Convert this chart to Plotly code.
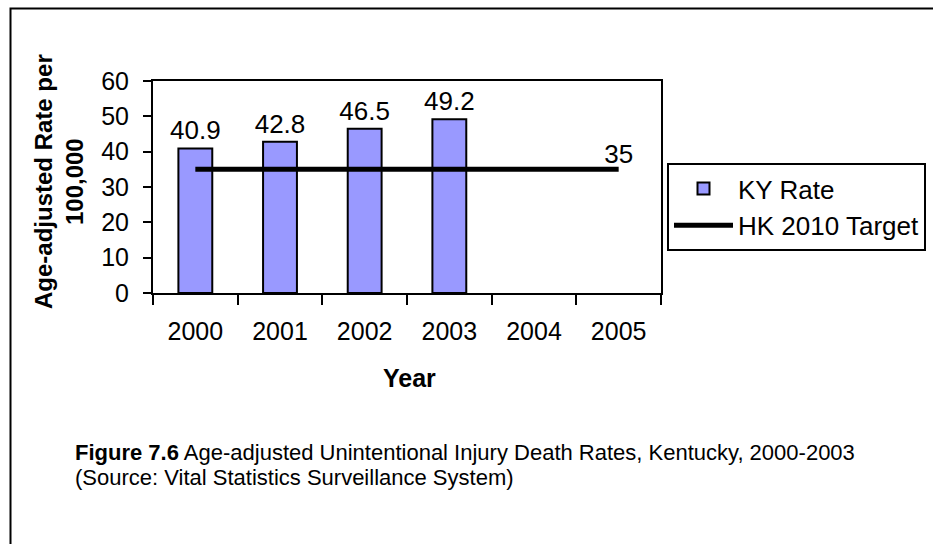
import plotly.graph_objects as go

years = ["2000", "2001", "2002", "2003", "2004", "2005"]
ky_rate = [40.9, 42.8, 46.5, 49.2, None, None]
hk_target = [35, 35, 35, 35, 35, 35]
target_labels = ["", "", "", "", "", "35"]
y_ticks = [0, 10, 20, 30, 40, 50, 60]

FONT = "Arial, Liberation Sans, sans-serif"

# plot area in pixels
L, R, T, B = 153, 661, 81, 293
W, H = 933, 544
PW, PH = R - L, B - T


def px(x):
    return (x - L) / PW


def py(y):
    return (B - y) / PH


fig = go.Figure()
fig.add_trace(go.Bar(
    x=years, y=ky_rate, name="KY Rate",
    marker=dict(color="#9999FF", line=dict(color="black", width=2)),
    text=[("" if v is None else f"{v}") for v in ky_rate],
    textposition="outside", constraintext="none",
    textfont=dict(size=26, color="black", family=FONT),
    cliponaxis=False, legendgroup="a",
))
fig.add_trace(go.Scatter(
    x=years, y=hk_target, name="HK 2010 Target", mode="lines+text",
    line=dict(color="black", width=5),
    text=target_labels, textposition="top center",
    textfont=dict(size=26, color="black", family=FONT),
    cliponaxis=False, legendgroup="b",
))

fig.update_layout(
    width=W, height=H,
    margin=dict(l=L, r=W - R, t=T, b=H - B, autoexpand=False),
    paper_bgcolor="white", plot_bgcolor="white",
    font=dict(family=FONT, size=25, color="black"),
    bargap=0.6,
    showlegend=True,
    legend=dict(
        x=px(667), y=py(163), xanchor="left", yanchor="top",
        bordercolor="black", borderwidth=2, bgcolor="white",
        font=dict(size=26, family=FONT, color="black"),
        itemwidth=59, tracegroupgap=0,
    ),
    xaxis=dict(
        type="category", categoryorder="array", categoryarray=years,
        range=[-0.5, 5.5], showline=True, linecolor="black", linewidth=2,
        mirror=True, ticks="outside", ticklen=10, tickwidth=2, tickcolor="black",
        tickson="boundaries", showgrid=False, zeroline=False,
        ticklabelstandoff=15, tickfont=dict(size=25),
    ),
    xaxis2=dict(
        overlaying="x", anchor="y", side="bottom", range=[-0.5, 5.5],
        tick0=-0.5, dtick=1, ticks="inside", ticklen=10, tickwidth=2,
        tickcolor="black", showticklabels=False, showgrid=False,
        zeroline=False, showline=False,
    ),
    yaxis=dict(
        range=[0, 60], tickvals=y_ticks, showline=True, linecolor="black",
        linewidth=2, mirror=True, ticks="outside", ticklen=8, tickwidth=2,
        tickcolor="black", showgrid=False, zeroline=False,
        ticklabelstandoff=9, tickfont=dict(size=25),
    ),
    yaxis2=dict(
        overlaying="y", anchor="x", side="left", range=[0, 60],
        tickvals=y_ticks, ticks="inside", ticklen=8, tickwidth=2,
        tickcolor="black", showticklabels=False, showgrid=False,
        zeroline=False, showline=False,
    ),
    annotations=[
        dict(text="<b>Age-adjusted Rate per<br>100,000</b>", textangle=-90,
             x=px(59), y=py(182), xref="paper", yref="paper",
             xanchor="center", yanchor="middle", showarrow=False,
             font=dict(size=24, family=FONT)),
        dict(text="<b>Year</b>", x=px(409), y=py(378), xref="paper", yref="paper",
             xanchor="center", yanchor="middle", showarrow=False,
             font=dict(size=25, family=FONT)),
        dict(text="<b>Figure 7.6</b> Age-adjusted Unintentional Injury Death Rates, Kentucky, 2000-2003",
             x=px(73), y=py(452), xref="paper", yref="paper",
             xanchor="left", yanchor="middle", align="left", showarrow=False,
             font=dict(size=22, family=FONT)),
        dict(text="(Source: Vital Statistics Surveillance System)",
             x=px(73), y=py(477), xref="paper", yref="paper",
             xanchor="left", yanchor="middle", align="left", showarrow=False,
             font=dict(size=22, family=FONT)),
    ],
    shapes=[
        dict(type="rect", xref="paper", yref="paper",
             x0=px(10.5), x1=px(945), y0=py(8.5), y1=py(560),
             line=dict(color="black", width=2), fillcolor="rgba(0,0,0,0)",
             layer="below"),
    ],
)

fig.write_html("out.html", config={"displayModeBar": False},
               post_script="document.body.style.margin='0px';")
